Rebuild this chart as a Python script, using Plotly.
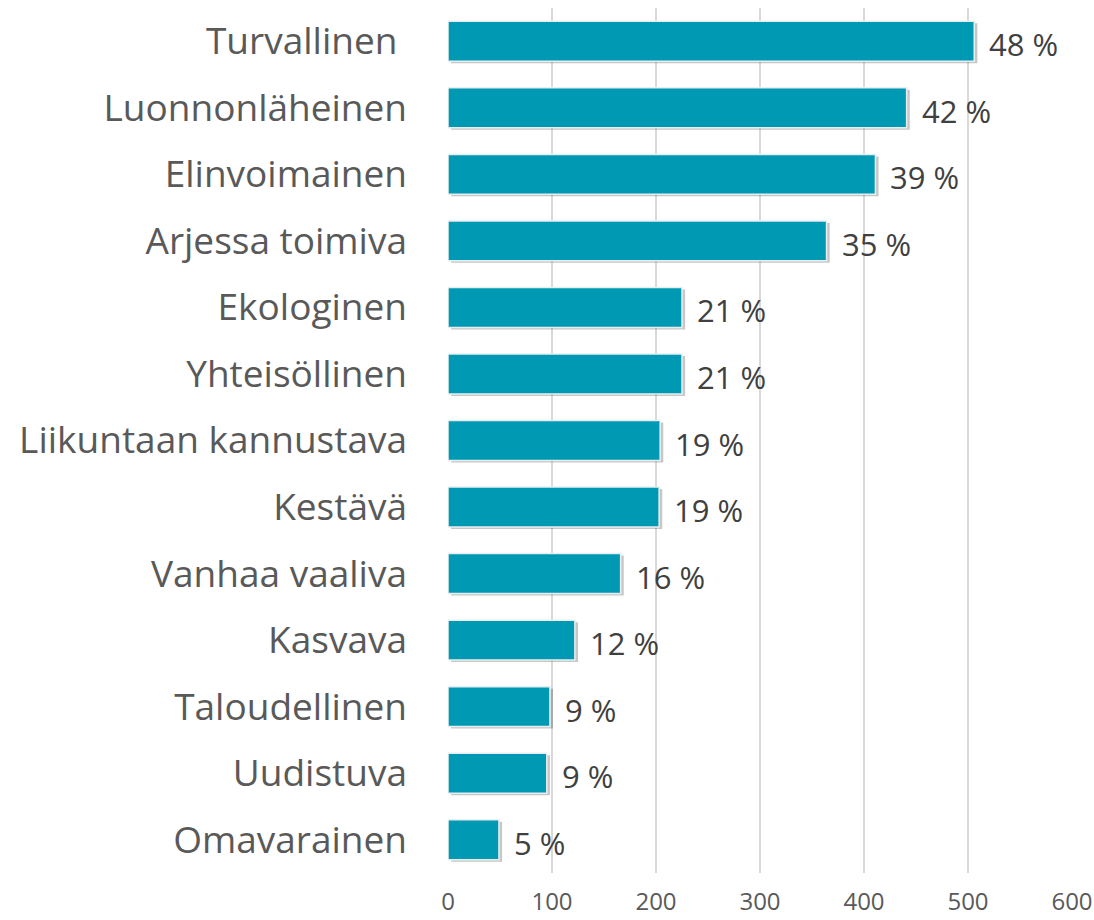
import plotly.graph_objects as go

categories = ["Turvallinen ", "Luonnonläheinen", "Elinvoimainen", "Arjessa toimiva",
              "Ekologinen", "Yhteisöllinen", "Liikuntaan kannustava", "Kestävä",
              "Vanhaa vaaliva", "Kasvava", "Taloudellinen", "Uudistuva", "Omavarainen"]
values = [506, 441, 411, 364, 225, 225, 204, 203, 166, 122, 98, 95, 49]
pct_labels = ["48 %", "42 %", "39 %", "35 %", "21 %", "21 %", "19 %", "19 %",
              "16 %", "12 %", "9 %", "9 %", "5 %"]
x_ticks = [0, 100, 200, 300, 400, 500, 600]

BAR = "#0099B4"

fig = go.Figure()
# soft shadow
fig.add_trace(go.Bar(
    y=categories, x=values, orientation="h", base=[3] * len(values),
    width=0.6, offset=-0.27,
    marker=dict(color="rgba(0,0,0,0.22)", line=dict(width=0)),
    hoverinfo="skip", showlegend=False,
))
fig.add_trace(go.Bar(
    y=categories, x=values, orientation="h", width=0.6, offset=-0.3,
    marker=dict(color=BAR, line=dict(color="#e8eef0", width=1.5)),
    showlegend=False,
))

for c, v, t in zip(categories, values, pct_labels):
    fig.add_annotation(x=v, y=c, text=t, showarrow=False, xanchor="left",
                       xshift=13, yshift=-3,
                       font=dict(family="Open Sans", size=31, color="#404040"))

fig.update_layout(
    width=1094, height=920,
    margin=dict(l=448, r=22, t=8, b=47),
    paper_bgcolor="white", plot_bgcolor="white",
    barmode="overlay",
    font=dict(family="Open Sans", color="#595959"),
)
fig.update_xaxes(range=[0, 600], tickvals=x_ticks, showgrid=True,
                 gridcolor="#d9d9d9", gridwidth=1.5, zeroline=False, automargin=False,
                 showline=False, ticks="", tickfont=dict(size=24, color="#595959"),
                 ticklabelstandoff=12)
fig.update_yaxes(autorange="reversed", showgrid=False, showline=False, automargin=False,
                 ticks="", tickfont=dict(size=37, color="#595959"),
                 ticklabelstandoff=40)

fig.write_html("out.html")
